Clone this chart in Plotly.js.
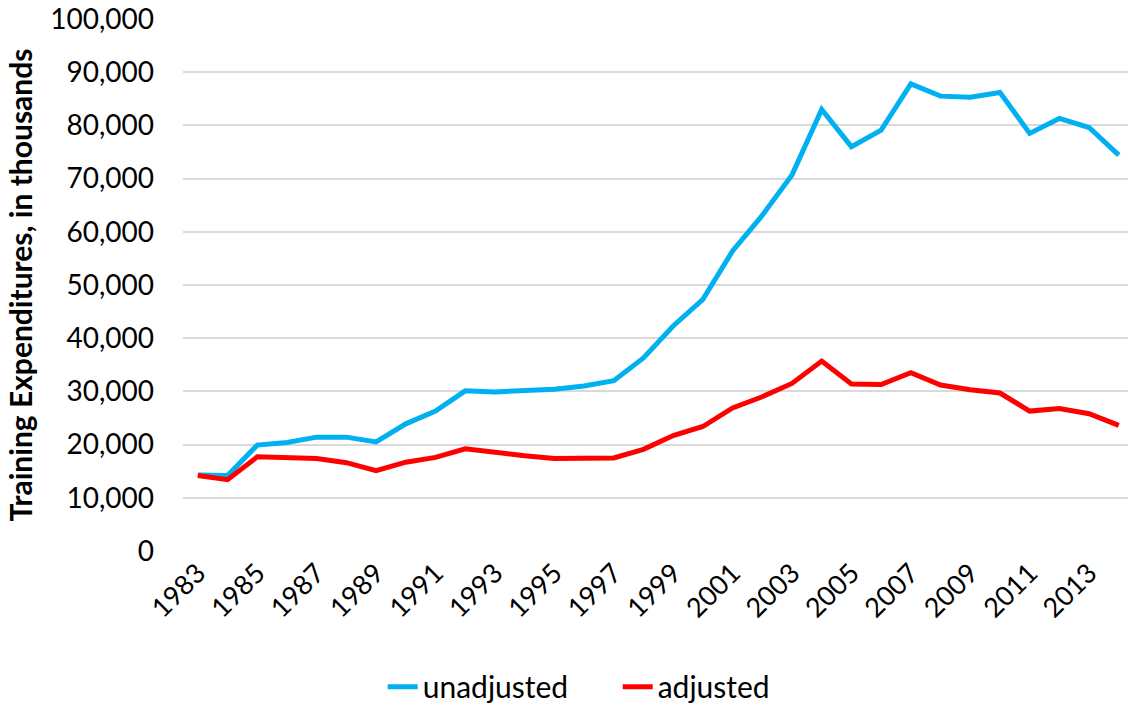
<!DOCTYPE html>
<html>
<head>
<meta charset="utf-8">
<script src="https://cdn.plot.ly/plotly-3.0.1.min.js"></script>
<style>html,body{margin:0;padding:0;background:#fff;}#chart{width:1128px;height:713px;}</style>
</head>
<body>
<div id="chart"></div>
<script>
const years = [1983,1984,1985,1986,1987,1988,1989,1990,1991,1992,1993,1994,1995,1996,1997,1998,1999,2000,2001,2002,2003,2004,2005,2006,2007,2008,2009,2010,2011,2012,2013,2014];
const unadjusted = [14300,14200,19900,20400,21400,21400,20500,23900,26300,30100,29900,30100,30400,31000,32000,36300,42300,47300,56400,63100,70700,83000,76000,79100,87800,85500,85300,86200,78500,81300,79600,74400];
const adjusted = [14200,13400,17700,17500,17400,16600,15100,16700,17600,19200,18500,17900,17400,17350,17500,19100,21700,23400,26900,29000,31500,35700,31400,31300,33500,31200,30300,29700,26300,26800,25800,23600];
const xTicks = [1983,1985,1987,1989,1991,1993,1995,1997,1999,2001,2003,2005,2007,2009,2011,2013];
const yTicks = [0,10000,20000,30000,40000,50000,60000,70000,80000,90000,100000];

const fam = 'Lato, "Open Sans", sans-serif';
const tickFont = {family: fam, size: 28, color: '#000'};
const xTickFont = {family: fam, size: 27, color: '#000'};
const legendFont = {family: fam, size: 30, color: '#000'};
const titleFont = {family: fam, size: 30, color: '#000'};

Plotly.newPlot('chart', [
  {x: years, y: unadjusted, name: 'unadjusted', type: 'scatter', mode: 'lines',
   line: {color: '#00B0F0', width: 5, join: 'round'}},
  {x: years, y: adjusted, name: 'adjusted', type: 'scatter', mode: 'lines',
   line: {color: '#FF0000', width: 5, join: 'round'}}
], {
  width: 1128, height: 713,
  margin: {l: 183, r: 0, t: 19, b: 158},
  paper_bgcolor: '#fff', plot_bgcolor: '#fff',
  font: tickFont,
  showlegend: true,
  legend: {orientation: 'h', x: 0.46, xanchor: 'center', y: -0.255, yanchor: 'middle',
           font: legendFont, itemwidth: 30, tracegroupgap: 0,
           entrywidth: 190, entrywidthmode: 'pixels'},
  xaxis: {range: [1982.5, 2014.31], tickvals: xTicks, ticktext: xTicks.map(String),
          tickangle: -45, showgrid: false, zeroline: false, showline: false,
          ticks: '', tickfont: xTickFont, fixedrange: true},
  yaxis: {range: [0, 100000], tickvals: yTicks, tickformat: ',', showgrid: true,
          gridcolor: '#D9D9D9', gridwidth: 2, zeroline: false, showline: false,
          ticks: '', tickfont: tickFont, ticklabelstandoff: 28, automargin: false,
          title: {text: '<b>Training Expenditures, in thousands</b>', font: titleFont, standoff: 8}}
}, {displayModeBar: false, staticPlot: true});
</script>
</body>
</html>
